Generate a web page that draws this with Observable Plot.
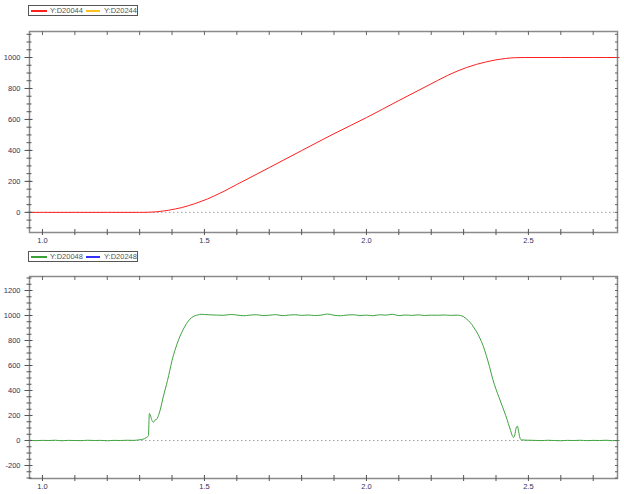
<!DOCTYPE html>
<html>
<head>
<meta charset="utf-8">
<script src="https://cdn.jsdelivr.net/npm/d3@7"></script>
<script src="https://cdn.jsdelivr.net/npm/@observablehq/plot@0.6"></script>
<style>
  body { margin: 0; background: #fff; }
  #wrap { position: relative; width: 624px; height: 494px; overflow: hidden; font-family: "Liberation Sans", Arial, sans-serif; }
  .legend { position: absolute; left: 28px; width: 108px; height: 9px; border: 1px solid #555; background: #fff; }
  .legend .sw { position: absolute; top: 4px; height: 1.5px; }
  .legend .lab { position: absolute; top: 0; font-size: 7.5px; line-height: 9px; color: #555; white-space: nowrap; }
  .chart { position: absolute; left: 0; }
</style>
</head>
<body>
<div id="wrap">
  <div class="legend" id="leg1" style="top:5px"></div>
  <div class="chart" id="c1" style="top:18px"></div>
  <div class="legend" id="leg2" style="top:251px"></div>
  <div class="chart" id="c2" style="top:263px"></div>
</div>
<script>
// ---- data ----
const seriesTop = ["Y:D20044", "Y:D20244"];
const seriesTopColors = ["#ff2020", "#ffc020"];
const seriesBottom = ["Y:D20048", "Y:D20248"];
const seriesBottomColors = ["#3aa03a", "#3030ff"];

const posTime = [0.96, 1.00, 1.10, 1.20, 1.30, 1.31, 1.33, 1.35, 1.37, 1.39, 1.41, 1.43, 1.45, 1.47, 1.49, 1.51, 1.53, 1.56, 1.60, 1.70, 1.80, 1.90, 2.00, 2.10, 2.22, 2.25, 2.28, 2.31, 2.34, 2.37, 2.40, 2.43, 2.46, 2.49, 2.60, 2.70, 2.78];
const posValue = [0, 0, 0, 0, 0, 0, 1, 3, 8, 14, 22, 31, 43, 56, 71, 87, 106, 136, 180, 289, 399, 508, 612, 722, 852, 884, 912, 936, 956, 972, 985, 994, 999, 1000, 1000, 1000, 1000];

const velTime = [0.96, 0.98, 1.00, 1.02, 1.04, 1.06, 1.08, 1.10, 1.12, 1.14, 1.16, 1.18, 1.20, 1.22, 1.24, 1.26, 1.28, 1.30, 1.31, 1.32, 1.327, 1.330, 1.334, 1.338, 1.343, 1.347, 1.352, 1.358, 1.365, 1.372, 1.380, 1.386, 1.393, 1.40, 1.41, 1.42, 1.43, 1.44, 1.45, 1.46, 1.47, 1.48, 1.49, 1.50, 1.52, 1.54, 1.56, 1.58, 1.60, 1.62, 1.64, 1.66, 1.68, 1.70, 1.72, 1.74, 1.76, 1.78, 1.80, 1.82, 1.84, 1.86, 1.88, 1.90, 1.92, 1.94, 1.96, 1.98, 2.00, 2.02, 2.04, 2.06, 2.08, 2.10, 2.12, 2.14, 2.16, 2.18, 2.20, 2.22, 2.24, 2.26, 2.28, 2.29, 2.30, 2.31, 2.32, 2.33, 2.34, 2.35, 2.36, 2.37, 2.38, 2.39, 2.40, 2.41, 2.42, 2.43, 2.438, 2.445, 2.450, 2.454, 2.458, 2.462, 2.466, 2.470, 2.474, 2.478, 2.49, 2.52, 2.54, 2.56, 2.58, 2.60, 2.62, 2.64, 2.66, 2.68, 2.70, 2.72, 2.74, 2.76, 2.78];
const velValue = [2, -1, 1, 0, 2, -2, 1, 0, -1, 2, 0, 1, -2, 1, 0, 2, 1, 6, 10, 22, 38, 216, 195, 160, 146, 162, 168, 200, 260, 340, 420, 480, 560, 640, 730, 805, 865, 915, 955, 982, 997, 1005, 1010, 1008, 1005, 1003, 1002, 1008, 1004, 998, 1003, 1006, 1000, 1002, 1007, 999, 1003, 1006, 1001, 1004, 1000, 1003, 1012, 1002, 998, 1004, 1006, 1000, 1003, 998, 1006, 1003, 1010, 999, 1004, 1001, 1005, 1000, 1003, 1002, 1004, 1001, 1003, 1000, 990, 970, 945, 910, 870, 820, 760, 680, 590, 490, 410, 340, 270, 200, 136, 80, 40, 25, 45, 100, 115, 70, 20, 5, 3, 1, -1, 2, 0, -2, 1, 0, 2, -1, 1, 0, 2, -1, 0];

const xLabelTicks = [1.0, 1.5, 2.0, 2.5];
const xMinorTicks = [1.0, 1.1, 1.2, 1.3, 1.4, 1.5, 1.6, 1.7, 1.8, 1.9, 2.0, 2.1, 2.2, 2.3, 2.4, 2.5, 2.6, 2.7];
const yTopLabels = [0, 200, 400, 600, 800, 1000];
const yTopMinor = [-100, -50, 0, 50, 100, 150, 200, 250, 300, 350, 400, 450, 500, 550, 600, 650, 700, 750, 800, 850, 900, 950, 1000, 1050, 1100, 1150];
const yBotLabels = [-200, 0, 200, 400, 600, 800, 1000, 1200];
const yBotMinor = [-300, -250, -200, -150, -100, -50, 0, 50, 100, 150, 200, 250, 300, 350, 400, 450, 500, 550, 600, 650, 700, 750, 800, 850, 900, 950, 1000, 1050, 1100, 1150, 1200, 1250, 1300];

// ---- legends ----
const swLeft = [2, 57], swWidth = [16, 14], labLeft = [21, 75];
function legend(el, names, colors) {
  el.innerHTML = names.map((n, i) =>
    `<div class="sw" style="left:${swLeft[i]}px;width:${swWidth[i]}px;background:${colors[i]}"></div>` +
    `<div class="lab" style="left:${labLeft[i]}px">${n}</div>`).join("");
}
legend(document.getElementById("leg1"), seriesTop, seriesTopColors);
legend(document.getElementById("leg2"), seriesBottom, seriesBottomColors);

// ---- charts ----
const labelColor = "#303060";
function panel({time, value, color, height, mt, mb, yDomain, yLabels, yMinor}) {
  const data = time.map((t, i) => ({t, v: value[i]}));
  return Plot.plot({
    width: 624,
    height,
    marginLeft: 29,
    marginRight: 7,
    marginTop: mt,
    marginBottom: mb,
    style: {fontFamily: "Liberation Sans, Arial, sans-serif", fontSize: "7.5px", background: "#fff"},
    x: {domain: [0.96, 2.775], label: null},
    y: {domain: yDomain, label: null},
    marks: [
      Plot.ruleY([0], {stroke: "#a0a0a0", strokeDasharray: "1.5,2.5"}),
      Plot.line(data, {x: "t", y: "v", stroke: color, strokeWidth: 1, curve: "monotone-x"}),
      Plot.frame({stroke: "#8a8a8a", strokeWidth: 1.5}),
      // y axis labels and ticks
      Plot.axisY(yLabels, {anchor: "left", label: null, tickSize: 0, tickPadding: 9, fill: labelColor, tickFormat: d => String(d)}),
      Plot.axisY(yMinor, {anchor: "left", label: null, text: null, tickSize: 5, dx: 2.5, stroke: "#555"}),
      Plot.axisY(yLabels, {anchor: "left", label: null, text: null, tickSize: 8, dx: 3.5, stroke: "#555"}),
      Plot.axisY(yMinor, {anchor: "right", label: null, text: null, tickSize: 3, dx: -3, stroke: "#666"}),
      // x axis labels and ticks
      Plot.axisX(xLabelTicks, {anchor: "bottom", label: null, tickSize: 0, tickPadding: 5, fill: labelColor, tickFormat: d => d.toFixed(1)}),
      Plot.axisX(xMinorTicks, {anchor: "bottom", label: null, text: null, tickSize: 6, dy: -3, stroke: "#555"}),
      Plot.axisX(xMinorTicks, {anchor: "top", label: null, text: null, tickSize: 4, dy: 3, stroke: "#666"})
    ]
  });
}

document.getElementById("c1").append(panel({
  time: posTime, value: posValue, color: "#ff1f1f", height: 232, mt: 13, mb: 18,
  yDomain: [-130, 1168], yLabels: yTopLabels, yMinor: yTopMinor
}));
document.getElementById("c2").append(panel({
  time: velTime, value: velValue, color: "#3fa33f", height: 231, mt: 13, mb: 16,
  yDomain: [-304, 1312], yLabels: yBotLabels, yMinor: yBotMinor
}));
</script>
</body>
</html>
